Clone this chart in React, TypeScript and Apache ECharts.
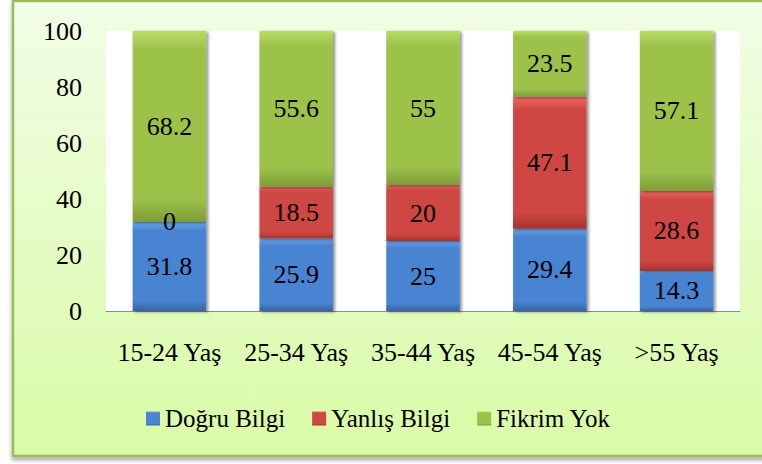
import React, { useEffect, useRef } from "react";
import * as echarts from "echarts";

const categories = ["15-24 Yaş", "25-34 Yaş", "35-44 Yaş", "45-54 Yaş", ">55 Yaş"];
const seriesNames = ["Doğru Bilgi", "Yanlış Bilgi", "Fikrim Yok"];
const dogruBilgi = [31.8, 25.9, 25, 29.4, 14.3];
const yanlisBilgi = [0, 18.5, 20, 47.1, 28.6];
const fikrimYok = [68.2, 55.6, 55, 23.5, 57.1];
const yTicks = { min: 0, max: 100, interval: 20 };

const FONT = "Liberation Serif";

function grad(top: string, mid: string, bottom: string) {
  return new echarts.graphic.LinearGradient(0, 0, 0, 1, [
    { offset: 0, color: top },
    { offset: 0.1, color: mid },
    { offset: 0.88, color: mid },
    { offset: 1, color: bottom },
  ]);
}

export default function App() {
  const ref = useRef<HTMLDivElement>(null);
  useEffect(() => {
    document.body.style.margin = "0";
    const chart = echarts.init(ref.current!, null, { renderer: "svg" });
    const colors = [
      grad("#6aa6ee", "#4a84d2", "#3565a6"),
      grad("#ef6a66", "#cf4642", "#a33331"),
      grad("#b8dc66", "#9cc24a", "#7f9c3a"),
    ];
    const data = [dogruBilgi, yanlisBilgi, fikrimYok];
    const series = seriesNames.map((name, i) => ({
      name,
      type: "bar",
      stack: "total",
      barWidth: "58%",
      data: data[i],
      itemStyle: {
        color: colors[i],
        shadowColor: "rgba(0,0,0,0.45)",
        shadowBlur: 3,
        shadowOffsetX: 2,
        shadowOffsetY: 1,
      },
      label: {
        show: true,
        position: "inside",
        color: "#000",
        fontFamily: FONT,
        fontSize: 26,
      },
    }));
    chart.setOption({
      animation: false,
      textStyle: { fontFamily: FONT },
      graphic: [
        {
          type: "rect",
          z: -10,
          silent: true,
          shape: { x: 13, y: 1, width: 770, height: 455 },
          style: {
            fill: new echarts.graphic.LinearGradient(0, 0, 0, 1, [
              { offset: 0, color: "#f1fde6" },
              { offset: 1, color: "#d9fba6" },
            ]),
            stroke: "#9bbb59",
            lineWidth: 2.5,
            shadowColor: "rgba(0,0,0,0.35)",
            shadowBlur: 4,
            shadowOffsetY: 3,
          },
        },
      ],
      grid: {
        left: 106,
        top: 31,
        right: 22,
        bottom: 153,
        show: true,
        backgroundColor: "#ffffff",
        borderWidth: 0,
        z: 1,
      },
      legend: {
        left: 141,
        top: 401,
        itemWidth: 14,
        itemHeight: 14,
        itemGap: 27,
        icon: "rect",
        data: seriesNames,
        textStyle: { fontFamily: FONT, fontSize: 25, color: "#000" },
      },
      xAxis: {
        type: "category",
        data: categories,
        axisLine: { show: true, lineStyle: { color: "#8c8c8c", width: 1 } },
        axisTick: { show: false },
        axisLabel: { fontFamily: FONT, fontSize: 26, color: "#000", margin: 28, interval: 0 },
      },
      yAxis: {
        type: "value",
        min: yTicks.min,
        max: yTicks.max,
        interval: yTicks.interval,
        axisLine: { show: true, lineStyle: { color: "#8c8c8c", width: 1 } },
        axisTick: { show: false },
        splitLine: { show: false },
        axisLabel: { fontFamily: FONT, fontSize: 26, color: "#000", margin: 24 },
      },
      series,
    });
    return () => chart.dispose();
  }, []);
  return (
    <div
      ref={ref}
      style={{ position: "absolute", left: 0, top: 0, width: 762, height: 464 }}
    />
  );
}
